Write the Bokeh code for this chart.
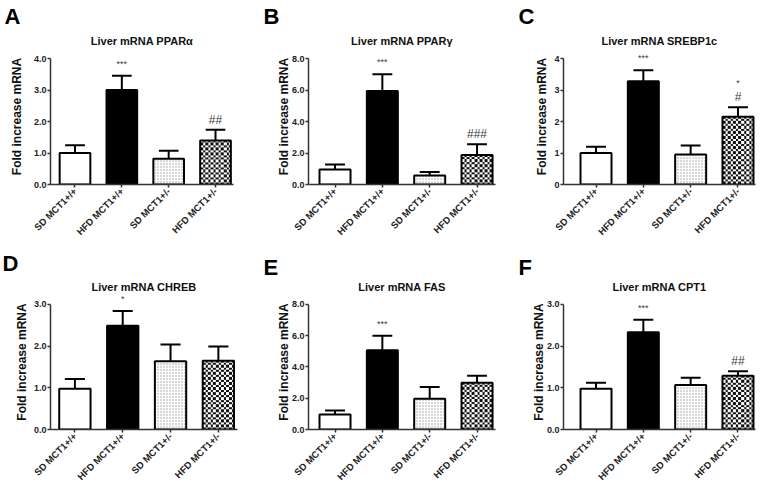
import math
import numpy as np
from bokeh.plotting import figure
from bokeh.layouts import column, row
from bokeh.models import Range1d, FixedTicker, Label, Title, NumeralTickFormatter
from bokeh.embed import file_html
from bokeh.resources import INLINE

# ---------------- data ----------------
groups = ["SD MCT1+/+", "HFD MCT1+/+", "SD MCT1+/-", "HFD MCT1+/-"]
titles = ["Liver mRNA PPARα", "Liver mRNA PPARγ", "Liver mRNA SREBP1c",
          "Liver mRNA CHREB", "Liver mRNA FAS", "Liver mRNA CPT1"]
letters = ["A", "B", "C", "D", "E", "F"]

mean_ppara = [1.00, 3.00, 0.82, 1.40]
sem_ppara = [0.25, 0.45, 0.25, 0.34]
mean_pparg = [0.96, 5.94, 0.57, 1.87]
sem_pparg = [0.31, 1.06, 0.23, 0.68]
mean_srebp = [1.00, 3.28, 0.95, 2.15]
sem_srebp = [0.20, 0.35, 0.29, 0.30]
mean_chreb = [0.98, 2.49, 1.64, 1.65]
sem_chreb = [0.23, 0.35, 0.40, 0.34]
mean_fas = [0.96, 5.07, 1.97, 2.99]
sem_fas = [0.25, 0.92, 0.75, 0.45]
mean_cpt1 = [0.98, 2.33, 1.07, 1.29]
sem_cpt1 = [0.14, 0.30, 0.17, 0.11]

# significance marks per bar, listed bottom to top
sig_ppara = [[], ["***"], [], ["##"]]
sig_pparg = [[], ["***"], [], ["###"]]
sig_srebp = [[], ["***"], [], ["#", "*"]]
sig_chreb = [[], ["*"], [], []]
sig_fas = [[], ["***"], [], []]
sig_cpt1 = [[], ["***"], [], ["##"]]

yticks_ppara = [0, 1, 2, 3, 4]
yticks_pparg = [0, 2, 4, 6, 8]
yticks_srebp = [0, 1, 2, 3, 4]
yticks_chreb = [0, 1, 2, 3]
yticks_fas = [0, 2, 4, 6, 8]
yticks_cpt1 = [0, 1, 2, 3]
yfmt = ["0.0", "0.0", "0", "0.0", "0.0", "0.0"]

means = [mean_ppara, mean_pparg, mean_srebp, mean_chreb, mean_fas, mean_cpt1]
sems = [sem_ppara, sem_pparg, sem_srebp, sem_chreb, sem_fas, sem_cpt1]
sigs = [sig_ppara, sig_pparg, sig_srebp, sig_chreb, sig_fas, sig_cpt1]
yticks = [yticks_ppara, yticks_pparg, yticks_srebp, yticks_chreb, yticks_fas, yticks_cpt1]

# ---------------- layout ----------------
col_x0 = [0, 250, 505]
col_w = [250, 255, 259]
row_h = [245, 243]
AXIS_PX = 126          # pixel height of the drawn y axis
PAD_PX = 10            # free space above the axis top inside the frame
fl = [50, 58, 58, 50, 58, 58]
fr = [17, 10, 9, 13, 10, 9]
ft = [48, 48, 48, 49, 49, 49]
fb = [61, 61, 61, 58, 58, 58]
xlims = [(-0.523, 3.384), (-0.56, 3.39), (-0.687, 3.37),
         (-0.51, 3.40), (-0.56, 3.39), (-0.687, 3.37)]
letter_x = [4, 263, 518, 2, 263, 518]
letter_valign = ["top", "top", "top", "top", "bottom", "bottom"]
letter_standoff = [5, 5, 5, 4, 0, 0]
title_standoff = [1, 1, 1, 1, 1, 1]
ylab_standoff = [7, -2, 2, 2, -2, -2]

FONT = "Liberation Sans"
AX = "#333333"
BW = 0.655

panels = []
for i in range(6):
    r, c = divmod(i, 3)
    W, H = col_w[c], row_h[r]
    ymax = yticks[i][-1]
    p = figure(width=W, height=H, output_backend="svg", toolbar_location=None,
               x_range=Range1d(*xlims[i]),
               y_range=Range1d(0, ymax * (AXIS_PX + PAD_PX) / AXIS_PX),
               min_border_left=fl[i], min_border_right=fr[i],
               min_border_top=ft[i], min_border_bottom=fb[i],
               title=letters[i])
    # panel letter (outermost title)
    p.title.align = "left"
    p.title.offset = letter_x[i] - (col_x0[c] + fl[i])
    p.title.vertical_align = letter_valign[i]
    p.title.standoff = letter_standoff[i]
    p.title.text_font = FONT
    p.title.text_font_size = "22px"
    p.title.text_font_style = "bold"
    p.title.text_color = "black"
    # chart title (next to the frame)
    p.add_layout(Title(text=titles[i], align="center", vertical_align="middle",
                       standoff=title_standoff[i], text_font=FONT, text_font_size="11px",
                       text_font_style="bold", text_color="#111111"), "above")

    p.xgrid.visible = False
    p.ygrid.visible = False
    p.outline_line_color = None
    p.background_fill_color = "white"
    p.border_fill_color = "white"

    xs = list(range(4))
    m, s = means[i], sems[i]
    tops = [m[k] + s[k] for k in xs]
    # error bars (upper only)
    p.segment(x0=xs, y0=m, x1=xs, y1=tops, line_color="black", line_width=2)
    p.segment(x0=[k - 0.21 for k in xs], y0=tops, x1=[k + 0.21 for k in xs], y1=tops,
              line_color="black", line_width=2)

    # checkerboard texture for the fourth bar, as an image stretched over the bar
    px_h = m[3] * AXIS_PX / ymax
    ny = max(2, int(round(px_h / 2.5)))
    nx = 12
    yy, xx = np.mgrid[0:ny, 0:nx]
    chk = np.where((xx + yy) % 2 == 0, 0xFF111111, 0xFFFFFFFF).astype(np.uint32)
    p.image_rgba(image=[chk], x=3 - BW / 2, y=0, dw=BW, dh=m[3])

    # bars
    p.vbar(x=[0], top=[m[0]], width=BW, fill_color="white", line_color="black", line_width=2)
    p.vbar(x=[1], top=[m[1]], width=BW, fill_color="black", line_color="black", line_width=2)
    p.vbar(x=[2], top=[m[2]], width=BW, fill_color="white", line_color="black", line_width=2,
           hatch_pattern="dot", hatch_scale=3, hatch_color="#9a9a9a", hatch_weight=1)
    p.vbar(x=[3], top=[m[3]], width=BW, fill_color=None, line_color="black", line_width=2)

    # significance marks
    for k in xs:
        for j, t in enumerate(sigs[i][k]):
            is_star = "*" in t
            p.add_layout(Label(x=k, y=tops[k], text=t, x_units="data", y_units="data",
                               y_offset=(12 if is_star else 10) + 12 * j,
                               text_align="center", text_baseline="middle",
                               text_font=FONT, text_color="#3a3a3a",
                               text_font_size="9px" if is_star else "12px"))

    # axes
    for ax in (p.xaxis[0], p.yaxis[0]):
        ax.axis_line_color = AX
        ax.axis_line_width = 1.5
        ax.major_tick_line_color = AX
        ax.major_tick_line_width = 1.5
        ax.major_tick_in = 0
        ax.major_tick_out = 3
        ax.minor_tick_line_color = None
        ax.major_label_text_font = FONT
        ax.major_label_text_font_style = "bold"
        ax.major_label_text_color = "#222222"
    p.xaxis.ticker = FixedTicker(ticks=xs)
    p.xaxis.major_label_overrides = {k: groups[k] for k in xs}
    p.xaxis.major_label_orientation = math.pi / 4
    p.xaxis.major_label_text_font_size = "9.5px"
    p.xaxis.major_label_standoff = 2
    p.yaxis.ticker = FixedTicker(ticks=yticks[i])
    p.yaxis.bounds = (0, ymax)
    p.yaxis.formatter = NumeralTickFormatter(format=yfmt[i])
    p.yaxis.major_label_text_font_size = "9px"
    p.yaxis.major_label_standoff = 1
    p.yaxis.axis_label = "Fold increase mRNA"
    p.yaxis.axis_label_text_font = FONT
    p.yaxis.axis_label_text_font_style = "bold"
    p.yaxis.axis_label_text_font_size = "12px"
    p.yaxis.axis_label_text_color = "#111111"
    p.yaxis.axis_label_standoff = ylab_standoff[i]
    panels.append(p)

layout = column(row(*panels[:3], spacing=0), row(*panels[3:], spacing=0), spacing=0)
open("out.html", "w").write(file_html(layout, INLINE))
